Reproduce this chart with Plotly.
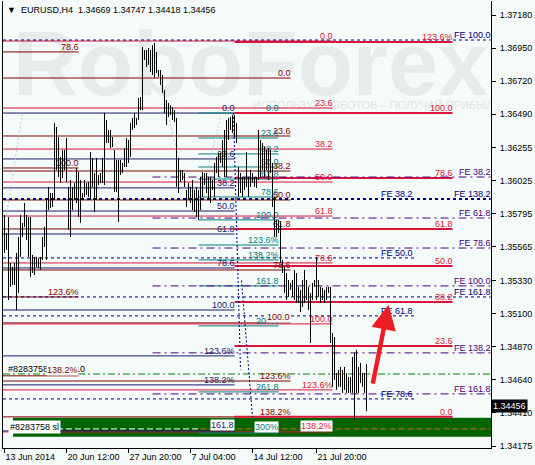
import base64
import plotly.graph_objects as go

FONT = "Liberation Sans"
BG = "#F4FBF9"

# EURUSD H4 bars (high / low)
bar_high = [
    1.35786, 1.35661, 1.35772, 1.35452, 1.35424, 1.35452, 1.35522, 1.35633, 1.35786, 1.35731,
    1.35870, 1.35786, 1.35772, 1.35772, 1.35508, 1.35494, 1.35494, 1.35487, 1.35494, 1.35633,
    1.35703, 1.35891, 1.35982, 1.35940, 1.35940, 1.36428, 1.36400, 1.36330, 1.36191, 1.36240,
    1.36240, 1.36323, 1.35982, 1.36030, 1.35982, 1.36009, 1.36114, 1.36086, 1.36030, 1.35940,
    1.36030, 1.36009, 1.36016, 1.36226, 1.36184, 1.36079, 1.36184, 1.36065, 1.36079, 1.36184,
    1.36497, 1.36449, 1.36379, 1.36379, 1.36330, 1.36240, 1.36170, 1.36170, 1.36170, 1.36149,
    1.36253, 1.36323, 1.36309, 1.36428, 1.36463, 1.36497, 1.36463, 1.36602, 1.36609, 1.36957,
    1.36936, 1.36936, 1.36950, 1.36936, 1.36971, 1.36985, 1.36923, 1.36797, 1.36797, 1.36762,
    1.36658, 1.36588, 1.36567, 1.36553, 1.36539, 1.36518, 1.36463, 1.36184, 1.36100, 1.36100,
    1.36079, 1.35961, 1.36009, 1.35982, 1.36030, 1.35961, 1.35982, 1.35961, 1.36051, 1.36086,
    1.36079, 1.36079, 1.36051, 1.36051, 1.36030, 1.36149, 1.36191, 1.36219, 1.36219, 1.36309,
    1.36379, 1.36449, 1.36463, 1.36470, 1.36483, 1.36483, 1.36428, 1.36121, 1.36079, 1.36051,
    1.36051, 1.36226, 1.36051, 1.36100, 1.36079, 1.36051, 1.36051, 1.36379, 1.36309, 1.36288,
    1.36260, 1.36240, 1.36253, 1.36240, 1.36149, 1.35912, 1.35752, 1.35752, 1.35738, 1.35473,
    1.35424, 1.35382, 1.35333, 1.35312, 1.35333, 1.35403, 1.35382, 1.35285, 1.35264, 1.35333,
    1.35403, 1.35333, 1.35285, 1.35243, 1.35312, 1.35333, 1.35494, 1.35333, 1.35285, 1.35278,
    1.35264, 1.35285, 1.35285, 1.35285, 1.34964, 1.34936, 1.34685, 1.34706, 1.34727, 1.34706,
    1.34727, 1.34685, 1.34658, 1.34658, 1.34797, 1.34825, 1.34846, 1.34727, 1.34755, 1.34685,
    1.34685, 1.34747,
]
bar_low = [
    1.35522, 1.35543, 1.35194, 1.35285, 1.35299, 1.35299, 1.35124, 1.35243, 1.35494, 1.35633,
    1.35703, 1.35612, 1.35494, 1.35354, 1.35382, 1.35368, 1.35424, 1.35417, 1.35403, 1.35473,
    1.35563, 1.35473, 1.35821, 1.35835, 1.35842, 1.35891, 1.36100, 1.36051, 1.36009, 1.36044,
    1.36100, 1.36016, 1.35682, 1.35633, 1.35821, 1.35891, 1.35870, 1.35772, 1.35731, 1.35891,
    1.35912, 1.35926, 1.35912, 1.35891, 1.35982, 1.35807, 1.35891, 1.35996, 1.36009, 1.36009,
    1.35996, 1.36288, 1.36288, 1.36253, 1.36260, 1.35947, 1.35947, 1.35738, 1.36065, 1.36079,
    1.36121, 1.36121, 1.36149, 1.36191, 1.36379, 1.36393, 1.36414, 1.36449, 1.36518, 1.36518,
    1.36867, 1.36818, 1.36832, 1.36783, 1.36762, 1.36741, 1.36776, 1.36748, 1.36693, 1.36637,
    1.36497, 1.36414, 1.36470, 1.36483, 1.36449, 1.36435, 1.35982, 1.35940, 1.36016, 1.36030,
    1.35982, 1.35842, 1.35891, 1.35870, 1.35821, 1.35807, 1.35772, 1.35752, 1.35821, 1.35912,
    1.35996, 1.35940, 1.35891, 1.35870, 1.35961, 1.35912, 1.36079, 1.36051, 1.36149, 1.36121,
    1.36051, 1.36051, 1.36309, 1.36379, 1.36358, 1.36330, 1.36288, 1.35912, 1.35940, 1.35912,
    1.35961, 1.35982, 1.35912, 1.35982, 1.36009, 1.35982, 1.35975, 1.36030, 1.36051, 1.36100,
    1.36051, 1.36100, 1.36030, 1.36079, 1.35842, 1.35633, 1.35633, 1.35661, 1.35452, 1.35382,
    1.35243, 1.35194, 1.35215, 1.35264, 1.35215, 1.35194, 1.35173, 1.35173, 1.35110, 1.35145,
    1.35173, 1.35194, 1.35124, 1.34894, 1.35194, 1.35285, 1.35194, 1.35215, 1.35173, 1.35194,
    1.35173, 1.35194, 1.35243, 1.34894, 1.34588, 1.34636, 1.34567, 1.34588, 1.34588, 1.34546,
    1.34567, 1.34546, 1.34546, 1.34546, 1.34546, 1.34358, 1.34546, 1.34546, 1.34615, 1.34588,
    1.34546, 1.34418,
]
last_ohlc = [1.34669, 1.34747, 1.34418, 1.34456]

date_ticks = [0, 31, 62, 93, 124, 156]
date_labels = ["13 Jun 2014", "20 Jun 12:00", "27 Jun 20:00", "7 Jul 04:00",
               "14 Jul 12:00", "21 Jul 20:00"]
price_ticks = [1.37180, 1.36950, 1.36720, 1.36490, 1.36255, 1.36025, 1.35795,
               1.35565, 1.35330, 1.35100, 1.34870, 1.34640, 1.34410, 1.34175]

# fibo objects: level text, level price, bar span
fib_a_text = ["78.6", "100.0", "123.6%", "138.2%"]
fib_a_price = [1.36923, 1.36114, 1.35215, 1.34665]
fib_a_span = [-0.75, 37]

fib_b_text = ["0.0", "23.6", "38.2", "50.0", "61.8", "78.6", "100.0", "123.6%", "138.2%"]
fib_b_price = [1.36999, 1.36532, 1.36246, 1.36016, 1.35779, 1.35452, 1.35027, 1.34567, 1.34274]
fib_b_span = [-0.75, 164]

fib_c_text = ["123.6%", "100.0", "78.6", "61.8", "50.0", "38.2", "23.6", "0.0"]
fib_c_price = [1.36992, 1.36497, 1.36044, 1.35689, 1.35431, 1.35180, 1.34873, 1.34379]
fib_c_span = [115, 224]

fib_d_text = ["0.0", "23.6", "38.2", "50.0", "61.8", "78.6", "100.0", "123.6%", "138.2%"]
fib_d_price = [1.36741, 1.36337, 1.36093, 1.35891, 1.35689, 1.35403, 1.35034, 1.34629, 1.34379]
fib_d_span = [-0.75, 143]

fib_e_text = ["0.0", "23.6", "38.2", "50.0", "61.8", "78.6", "100.0", "123.6%", "138.2%", "161.8"]
fib_e_price = [1.36497, 1.36177, 1.35975, 1.35814, 1.35654, 1.35417, 1.35124, 1.34804, 1.34602, 1.34281]
fib_e_span = [-0.75, 115]

fib_f_text = ["0.0", "23.6", "38.2", "50.0", "61.8", "78.6", "100.0", "123.6%", "138.2%",
              "161.8", "200.0", "261.8", "300%"]
fib_f_price = [1.36497, 1.36323, 1.36212, 1.36121, 1.36037, 1.35912, 1.35752, 1.35577, 1.35473,
               1.35292, 1.35013, 1.34553, 1.34267]
fib_f_span = [97, 137]

fe_g_text = ["FE 38.2", "FE 61.8", "FE 78.6", "FE 100.0", "FE 138.2", "FE 161.8"]
fe_g_price = [1.36051, 1.35765, 1.35556, 1.35292, 1.34825, 1.34539]
fe_g_span = [74, 243]

fe_h_text = ["FE 100.0", "FE 138.2", "FE 161.8"]
fe_h_price = [1.37006, 1.35898, 1.35215]
fe_h_span = [-0.75, 243]

fe_i_text = ["FE 38.2", "FE 50.0", "FE 61.8", "FE 78.6"]
fe_i_price = [1.35898, 1.35487, 1.35083, 1.34504]
fe_i_span = [-0.75, 205]

order_price = 1.34678
order_text = "#8283758 buy 0.10"
sl_zone = [1.34240, 1.34372]
sl_text = "#8283758 sl"
sl_line = 1.34295

arrow_tail = [184, 1.34600]
arrow_tip = [192, 1.35160]

zigzag = [[(1, 1.35786), (9, 1.36497)],
          [(74, 1.36936), (87, 1.36191)],
          [(96, 1.35772), (108, 1.36470)]]
fibo_links = [[(114.5, 1.36497), (118, 1.34710)],
              [(118.5, 1.35330), (124, 1.34380)]]

fig = go.Figure()

# watermark
svg = ('<?xml version="1.0" encoding="UTF-8"?>'
       '<svg xmlns="http://www.w3.org/2000/svg" width="488" height="447" viewBox="0 0 488 447">'
       '<text x="10" y="94" font-family="Liberation Sans" font-weight="bold" font-size="90" '
       'fill="#E6ECEB">RoboForex</text>'
       '<text x="250" y="108" font-family="Liberation Sans" font-size="11" fill="#DFE6E5">'
       'ИСПОЛЬЗУЙ РОБОТОВ – ПОЛУЧАЙ ПРИБЫЛЬ</text></svg>')
fig.add_layout_image(source="data:image/svg+xml;base64," + base64.b64encode(svg.encode("utf-8")).decode(),
                     xref="paper", yref="paper", x=0, y=1, sizex=1, sizey=1,
                     xanchor="left", yanchor="top", sizing="stretch", layer="below")

fig.add_shape(type="rect", x0=4.25, x1=243.25, y0=sl_zone[0], y1=sl_zone[1],
              fillcolor="#006400", line_width=0, layer="below")


def hline(p, x0, x1, color, width=1, dash="solid"):
    fig.add_shape(type="line", x0=x0, x1=x1, y0=p, y1=p, layer="below",
                  line=dict(color=color, width=width, dash=dash))


def fib_set(texts, prices, span, color, width=1, dash="solid", label_x=None, boxed=None):
    boxed = boxed or {}
    lx = span[1] if label_x is None else label_x
    for p in prices:
        hline(p, span[0], span[1], color, width, dash)
    keep = [i for i, t in enumerate(texts) if t not in boxed]
    fig.add_trace(go.Scatter(
        x=[lx] * len(keep), y=[prices[i] for i in keep], text=[texts[i] for i in keep],
        mode="text", textposition="top left", hoverinfo="skip", showlegend=False,
        textfont=dict(family=FONT, size=9, color=color)))
    for t, bg in boxed.items():
        p = prices[texts.index(t)]
        fig.add_annotation(x=lx, y=p, text=t, showarrow=False, xanchor="right",
                           yanchor="bottom", bgcolor=bg, borderpad=0,
                           font=dict(family=FONT, size=9, color=color))


hline(sl_line, -0.75, 98, "#FFFFFF", 1, "6px,3px")
hline(sl_line, 98, 243, "#D2691E", 1, "6px,3px")
hline(order_price, -0.75, 243, "#008000", 1, "7px,3px,2px,3px")

fib_set(fib_a_text, fib_a_price, fib_a_span, "#800000", boxed={"138.2%": BG})
fib_set(fib_d_text, fib_d_price, fib_d_span, "#800000", boxed={"100.0": BG})
fib_set(fib_b_text, fib_b_price, fib_b_span, "#DC143C", boxed={"138.2%": "#FFFFFF"})
fib_set(fib_e_text, fib_e_price, fib_e_span, "#191970", boxed={"161.8": "#FFFFFF"})
fib_set(fib_f_text, fib_f_price, fib_f_span, "#008080", boxed={"300%": "#FFFFFF"})
fib_set(fib_c_text, fib_c_price, fib_c_span, "#DC143C", width=2)
fib_set(fe_g_text, fe_g_price, fe_g_span, "#4B0082", dash="8px,4px,2px,4px")
fib_set(fe_i_text, fe_i_price, fe_i_span, "#000080", dash="3px,3px", label_x=204)
fib_set(fe_h_text, fe_h_price, fe_h_span, "#000080", dash="3px,3px")
hline(fe_h_price[1], fe_h_span[0], fe_h_span[1], "#000080", 2, "3px,3px")

for seg in zigzag:
    fig.add_shape(type="line", x0=seg[0][0], y0=seg[0][1], x1=seg[1][0], y1=seg[1][1],
                  layer="below", line=dict(color="#B4CDE6", width=1, dash="2px,2px"))
for seg in fibo_links:
    fig.add_shape(type="line", x0=seg[0][0], y0=seg[0][1], x1=seg[1][0], y1=seg[1][1],
                  layer="below", line=dict(color="#000080", width=1, dash="2px,2px"))

fig.add_trace(go.Scatter(x=[1.75], y=[order_price], text=[order_text], mode="text",
                         textposition="top right", hoverinfo="skip", showlegend=False,
                         textfont=dict(family=FONT, size=9, color="#000000")))

# price bars on top of the objects
bx, by = [], []
for i, (h, l) in enumerate(zip(bar_high, bar_low)):
    bx += [i, i, None]
    by += [l, h, None]
fig.add_trace(go.Scatter(x=bx, y=by, mode="lines", line=dict(color="#000000", width=1),
                         hoverinfo="skip", showlegend=False))

fig.add_annotation(x=1.75, y=(sl_zone[0] + sl_zone[1]) / 2, text=sl_text, showarrow=False,
                   xanchor="left", yanchor="middle", bgcolor="#FFFFFF", borderpad=1,
                   font=dict(family=FONT, size=9, color="#000000"))

fig.add_annotation(x=arrow_tip[0], y=arrow_tip[1], ax=arrow_tail[0], ay=arrow_tail[1],
                   axref="x", ayref="y", text="", showarrow=True, arrowhead=2,
                   arrowsize=1.1, arrowwidth=4.5, arrowcolor="#EE1C25", standoff=0)

fig.add_annotation(xref="paper", yref="paper", x=0.005, y=0.995, xanchor="left", yanchor="top",
                   text="▼  EURUSD,H4  " + " ".join("%.5f" % v for v in last_ohlc),
                   showarrow=False, font=dict(family=FONT, size=9, color="#000000"))

fig.add_annotation(xref="paper", x=1, y=last_ohlc[3], xanchor="left", yanchor="middle",
                   text="%.5f" % last_ohlc[3], showarrow=False, bgcolor="#000000",
                   borderpad=1, font=dict(family=FONT, size=9, color="#FFFFFF"))

fig.update_layout(
    template="none",
    width=535, height=465,
    margin=dict(l=3, r=44, t=1, b=17, pad=0),
    paper_bgcolor=BG, plot_bgcolor=BG,
    showlegend=False,
    font=dict(family=FONT, size=9, color="#000000"),
    xaxis=dict(range=[-0.75, 243.25], tickvals=date_ticks, ticktext=date_labels,
               ticks="outside", ticklen=4, tickcolor="#000000", showgrid=False,
               zeroline=False, showline=True, linecolor="#000000", linewidth=1,
               automargin=False, ticklabelstandoff=0,
               ticklabelposition="outside right", tickfont=dict(size=9)),
    yaxis=dict(range=[1.34162, 1.37278], side="right", tickvals=price_ticks,
               ticktext=["%.5f" % v for v in price_ticks], ticks="outside", ticklen=4,
               tickcolor="#000000", showgrid=False, zeroline=False, showline=True,
               mirror=True, linecolor="#000000", linewidth=1, automargin=False,
               ticklabelstandoff=2, tickfont=dict(size=9)),
)

fig.write_html("out.html", config={"displayModeBar": False},
               post_script="document.body.style.margin='0';document.body.style.overflow='hidden';")
